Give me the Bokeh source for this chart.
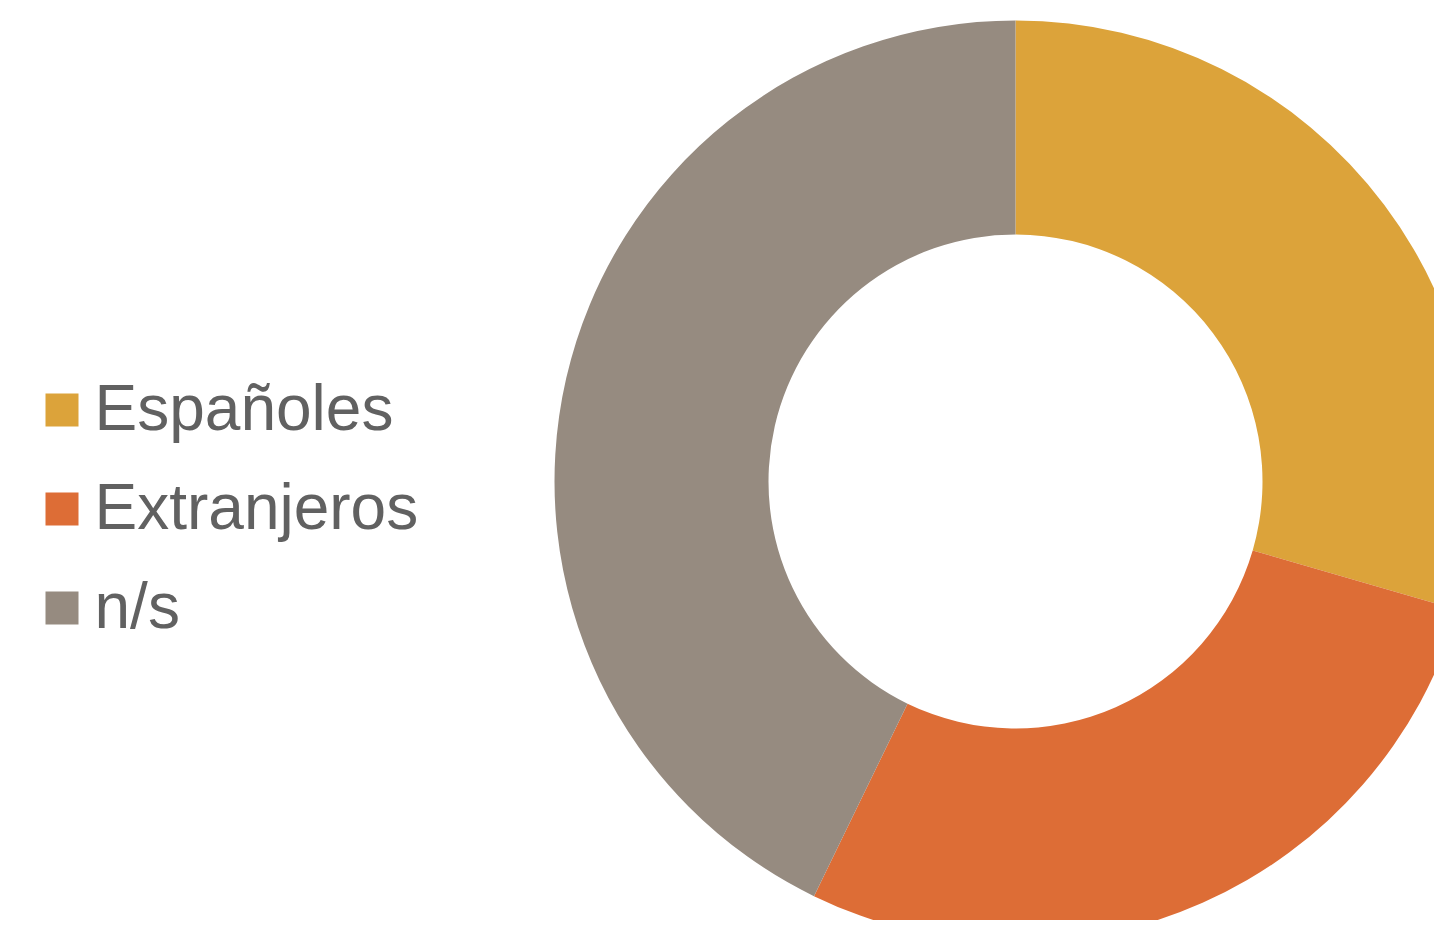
import math
from bokeh.plotting import figure
from bokeh.models import Range1d, ColumnDataSource
from bokeh.core.properties import value
from bokeh.embed import file_html
from bokeh.resources import INLINE

# Data (percent shares)
categories = ["Españoles", "Extranjeros", "n/s"]
shares = [29.5, 27.7, 42.8]
colors = ["#DCA33A", "#DD6D36", "#968B80"]

W, H = 1434, 920
p = figure(width=W, height=H, output_backend="svg", toolbar_location=None,
           x_range=Range1d(0, W), y_range=Range1d(0, H), min_border=0,
           background_fill_color="white", border_fill_color="white")
p.axis.visible = False
p.grid.visible = False
p.outline_line_color = None

total = sum(shares)
starts, ends = [], []
cum = 0.0
for s in shares:
    a0 = cum / total
    cum += s
    a1 = cum / total
    # clockwise from 12 o'clock
    starts.append(math.pi / 2 - a1 * 2 * math.pi)
    ends.append(math.pi / 2 - a0 * 2 * math.pi)

cx, cy = 1015, 439
src = ColumnDataSource(dict(start=starts, end=ends, color=colors, cat=categories))
p.annular_wedge(x=cx, y=cy, inner_radius=247, outer_radius=461,
                inner_radius_units="screen", outer_radius_units="screen",
                start_angle="start", end_angle="end", fill_color="color",
                line_color=None, source=src)

# manual legend
step = 99
top_center = 510.5
ys = [top_center - i * step for i in range(len(categories))]
leg = ColumnDataSource(dict(x=[61.5] * len(categories), y=ys,
                            ty=[y + 2.5 for y in ys], tx=[94] * len(categories),
                            color=colors, cat=categories))
p.rect(x="x", y="y", width=33, height=33, width_units="screen", height_units="screen",
       fill_color="color", line_color=None, source=leg)
p.text(x="tx", y="ty", text="cat", source=leg, text_font=value("Liberation Sans"),
       text_font_size="64px", text_color="#616161", text_baseline="alphabetic",
       text_align="left")

open("out.html", "w").write(file_html(p, INLINE))
